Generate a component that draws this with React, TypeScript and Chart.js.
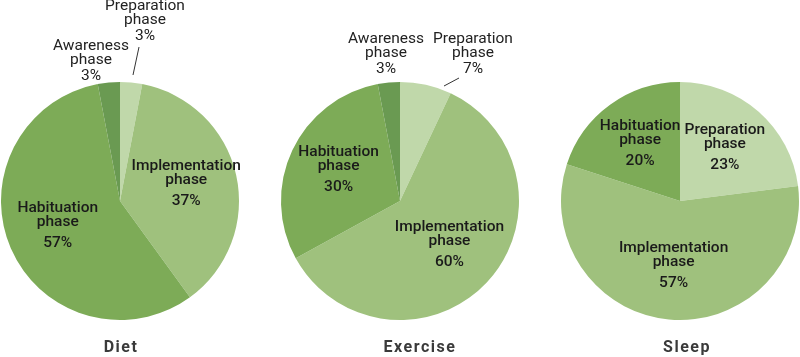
import React, { useEffect, useRef } from "react";
import { Chart, registerables } from "chart.js";

Chart.register(...registerables);

const W = 800;
const H = 357;

const phaseNames = ["Preparation", "Implementation", "Habituation", "Awareness"];
const dietValues = [3, 37, 57, 3];
const exerciseValues = [7, 60, 30, 3];
const sleepValues = [23, 57, 20, 0];
const chartTitles = ["Diet", "Exercise", "Sleep"];
const sliceColors = ["#c0d8aa", "#9fc17d", "#7dab57", "#6a9a52"];

type Outside = { dx: number; dy: number; line?: number[] };
type Layout = { cx: number; cy: number; r: number; titleX: number; outside: Record<number, Outside> };

const layouts: Layout[] = [
  {
    cx: 120, cy: 201, r: 119, titleX: 121,
    outside: { 0: { dx: 25, dy: -181, line: [13, -126, 19, -154] }, 3: { dx: -29, dy: -141 } },
  },
  {
    cx: 400, cy: 201, r: 119, titleX: 420,
    outside: { 0: { dx: 73, dy: -148, line: [44, -115, 59, -123] }, 3: { dx: -14, dy: -148 } },
  },
  { cx: 680, cy: 201, r: 119, titleX: 687, outside: {} },
];

const FONT = "Roboto, 'Noto Sans', sans-serif";

const labelPlugin = {
  id: "phaseLabels",
  afterDraw(chart: any) {
    const lay: Layout = chart.options.plugins.phaseLabels.layout;
    const title: string = chart.options.plugins.phaseLabels.title;
    const ctx = chart.ctx;
    const meta = chart.getDatasetMeta(0);
    const values = chart.data.datasets[0].data as number[];
    ctx.save();
    ctx.textAlign = "center";
    ctx.textBaseline = "middle";
    meta.data.forEach((arc: any, i: number) => {
      const v = values[i];
      if (!v) return;
      const p = arc.getProps(["startAngle", "endAngle", "x", "y", "outerRadius"], true);
      const mid = (p.startAngle + p.endAngle) / 2;
      const lines = [phaseNames[i], "phase", `${v}%`];
      if (v >= 10) {
        const rr = p.outerRadius * 0.57;
        const x = p.x + Math.cos(mid) * rr;
        const y = p.y + Math.sin(mid) * rr;
        ctx.fillStyle = "#1a1a1a";
        ctx.font = `500 15.5px ${FONT}`;
        ctx.fillText(lines[0], x, y - 20);
        ctx.fillText(lines[1], x, y - 6);
        ctx.fillText(lines[2], x, y + 15);
      } else {
        const o = lay.outside[i];
        if (!o) return;
        const x = p.x + o.dx;
        const y = p.y + o.dy;
        ctx.fillStyle = "#222";
        ctx.font = `400 15.5px ${FONT}`;
        ctx.fillText(lines[0], x, y - 14);
        ctx.fillText(lines[1], x, y);
        ctx.fillText(lines[2], x, y + 16);
        if (o.line) {
          ctx.strokeStyle = "#333";
          ctx.lineWidth = 1;
          ctx.beginPath();
          ctx.moveTo(p.x + o.line[0], p.y + o.line[1]);
          ctx.lineTo(p.x + o.line[2], p.y + o.line[3]);
          ctx.stroke();
        }
      }
    });
    ctx.fillStyle = "#3a3a3a";
    ctx.font = `700 16px ${FONT}`;
    try {
      (ctx as any).letterSpacing = "1.5px";
    } catch (e) {}
    ctx.fillText(title, lay.titleX, 348);
    ctx.restore();
  },
};

function PieCanvas({ values, index }: { values: number[]; index: number }) {
  const ref = useRef<HTMLCanvasElement>(null);
  useEffect(() => {
    const lay = layouts[index];
    const chart = new Chart(ref.current!, {
      type: "pie",
      data: {
        labels: phaseNames,
        datasets: [
          {
            data: values,
            backgroundColor: sliceColors,
            borderWidth: 0,
          },
        ],
      },
      options: {
        responsive: false,
        animation: false,
        devicePixelRatio: 1,
        layout: {
          padding: {
            left: lay.cx - lay.r,
            right: W - (lay.cx + lay.r),
            top: lay.cy - lay.r,
            bottom: H - (lay.cy + lay.r),
          },
        },
        plugins: {
          legend: { display: false },
          tooltip: { enabled: false },
          phaseLabels: { layout: lay, title: chartTitles[index] },
        } as any,
      },
      plugins: [labelPlugin],
    });
    return () => chart.destroy();
  }, [values, index]);
  return (
    <canvas
      ref={ref}
      width={W}
      height={H}
      style={{ position: "absolute", left: 0, top: 0, width: W, height: H }}
    />
  );
}

export default function App() {
  return (
    <div style={{ position: "absolute", left: 0, top: 0, width: W, height: H, background: "#fff" }}>
      <PieCanvas values={dietValues} index={0} />
      <PieCanvas values={exerciseValues} index={1} />
      <PieCanvas values={sleepValues} index={2} />
    </div>
  );
}
